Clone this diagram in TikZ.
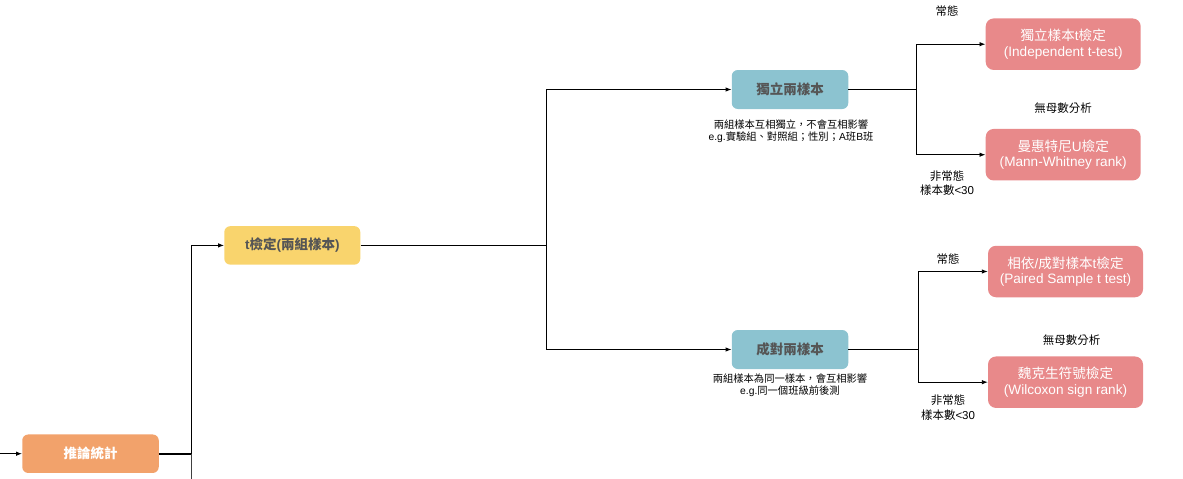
\documentclass[tikz,border=0pt]{standalone}
\usepackage{fontspec}
\setmainfont{Liberation Sans}
\newfontfamily\cjk{Noto Sans CJK TC}
\usetikzlibrary{arrows.meta}
\newcommand\zh[1]{{\cjk #1}}
\definecolor{cOrange}{HTML}{F2A26B}
\definecolor{cYellow}{HTML}{F9D46D}
\definecolor{cTeal}{HTML}{8CC3D0}
\definecolor{cPink}{HTML}{E8898A}
\definecolor{cText}{HTML}{555555}
\begin{document}
\begin{tikzpicture}[x=1pt,y=-1pt,
  boldbox/.style={rounded corners=6pt, inner sep=0pt, align=center,
    font=\fontsize{13.5}{15.5}\selectfont\bfseries, text=cText},
  pinkbox/.style={rounded corners=8pt, inner sep=0pt, align=center, fill=cPink,
    minimum width=155pt, minimum height=51.5pt, text=white,
    font=\fontsize{13.6}{15.6}\selectfont},
  note/.style={inner sep=0pt, align=center, font=\fontsize{10.3}{11.8}\selectfont},
  lab/.style={inner sep=0pt, align=center, font=\fontsize{11.5}{14.5}\selectfont},
  conn/.style={draw=black, line width=0.9pt},
  arr/.style={conn, -{Latex[length=6pt,width=4.5pt]}}]
\useasboundingbox (0,0) rectangle (1183,479);

% nodes
\node[boldbox, fill=cOrange, text=white, minimum width=136.5pt, minimum height=38.5pt] (inf) at (90.5,453.7) {\zh{推論統計}};
\node[boldbox, fill=cYellow, minimum width=136pt, minimum height=38.5pt] (tt) at (292.3,245.4) {t\zh{檢定}(\zh{兩組樣本})};
\node[boldbox, fill=cTeal, minimum width=116.5pt, minimum height=39pt] (ind) at (790,89.5) {\zh{獨立兩樣本}};
\node[boldbox, fill=cTeal, minimum width=116.5pt, minimum height=39pt] (pair) at (790,349.5) {\zh{成對兩樣本}};

\node[pinkbox] (indt) at (1063.2,44.2) {\zh{獨立樣本}t\zh{檢定}\\(Independent t-test)};
\node[pinkbox] (mwu) at (1063.2,154.7) {\zh{曼惠特尼}U\zh{檢定}\\(Mann-Whitney rank)};
\node[pinkbox] (pt) at (1065.5,271.5) {\zh{相依}/\zh{成對樣本}t\zh{檢定}\\(Paired Sample t test)};
\node[pinkbox] (wsr) at (1065.5,382.2) {\zh{魏克生符號檢定}\\(Wilcoxon sign rank)};

% notes
\node[note] (n1) at (791,131.5) {\zh{兩組樣本互相獨立，不會互相影響}\\e.g.\zh{實驗組、對照組；性別；}A\zh{班}B\zh{班}};
\node[note] (n2) at (790,385.5) {\zh{兩組樣本為同一樣本，會互相影響}\\e.g.\zh{同一個班級前後測}};

\node[lab] (l1) at (947,11) {\zh{常態}};
\node[lab] (l2) at (1063,108) {\zh{無母數分析}};
\node[lab] (l3) at (947,183) {\zh{非常態}\\\zh{樣本數}<30};
\node[lab] (l4) at (948,259) {\zh{常態}};
\node[lab] (l5) at (1071.5,340) {\zh{無母數分析}};
\node[lab] (l6) at (948,407.5) {\zh{非常態}\\\zh{樣本數}<30};

% junction coordinates
\coordinate (src) at (0,453.7);
\coordinate (j0) at (191.5,453.7);
\coordinate (bot) at (191.5,479);
\coordinate (j1) at (546.5,245.4);
\coordinate (j2) at (916.8,89.5);
\coordinate (j3) at (918.3,349.5);

% connectors
\draw[arr] (src) -- (inf.west);
\draw[conn, line width=1.6pt] (inf.east) -- (j0);
\draw[arr] (j0) |- (tt.west);
\draw[conn, line width=1.8pt, draw=black!75] (j0) -- (bot);
\draw[conn] (tt.east) -- (j1);
\draw[arr] (j1) |- (ind.west);
\draw[arr] (j1) |- (pair.west);
\draw[conn] (ind.east) -- (j2);
\draw[arr] (j2) |- (indt.west);
\draw[arr] (j2) |- (mwu.west);
\draw[conn] (pair.east) -- (j3);
\draw[arr] (j3) |- (pt.west);
\draw[arr] (j3) |- (wsr.west);
\end{tikzpicture}
\end{document}
